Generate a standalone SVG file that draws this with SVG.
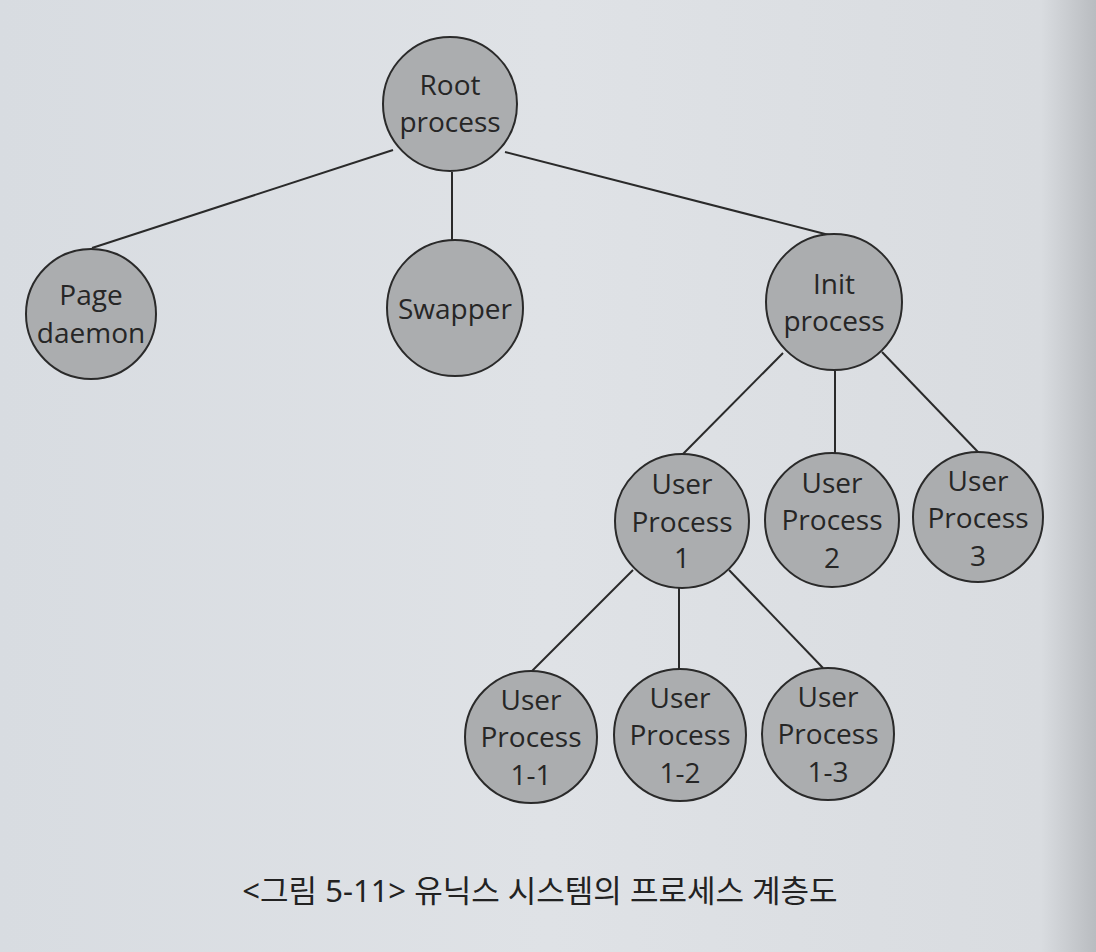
<svg xmlns="http://www.w3.org/2000/svg" width="1096" height="952" viewBox="0 0 1096 952">
<defs>
<linearGradient id="bg" x1="0" y1="0" x2="1" y2="0">
<stop offset="0" stop-color="#d8dce1"/>
<stop offset="0.5" stop-color="#dfe2e6"/>
<stop offset="0.95" stop-color="#d9dce0"/>
<stop offset="1" stop-color="#b9bcc0"/>
</linearGradient>
<style>
.node circle{fill:#abadaf;stroke:#2a2a2a;stroke-width:2}
.node text{font-family:"Open Sans","Noto Sans","DejaVu Sans",sans-serif;font-size:28px;fill:#262626;text-anchor:middle}
#connectors line{stroke:#2a2a2a;stroke-width:2}
.caption{font-family:"Noto Sans","Noto Sans CJK KR",sans-serif;font-size:31px;fill:#222;text-anchor:middle}
</style>
</defs>
<rect width="1096" height="952" fill="url(#bg)"/>
<g id="connectors">
<line x1="393" y1="150" x2="92" y2="248"/>
<line x1="452" y1="172" x2="452" y2="241"/>
<line x1="505" y1="152" x2="829" y2="235"/>
<line x1="783" y1="353" x2="682" y2="455"/>
<line x1="835" y1="371" x2="835" y2="454"/>
<line x1="882" y1="352" x2="978" y2="452"/>
<line x1="633" y1="570" x2="532" y2="671"/>
<line x1="679" y1="588" x2="679" y2="670"/>
<line x1="729" y1="570" x2="823" y2="668"/>
</g>
<g id="root" class="node"><circle cx="450" cy="104" r="67"/><text x="450" y="95">Root</text><text x="450" y="132">process</text></g>
<g id="page" class="node"><circle cx="91" cy="314" r="65"/><text x="91" y="305">Page</text><text x="91" y="343">daemon</text></g>
<g id="swapper" class="node"><circle cx="455" cy="308" r="68"/><text x="455" y="319">Swapper</text></g>
<g id="init" class="node"><circle cx="834" cy="302" r="68"/><text x="834" y="294">Init</text><text x="834" y="331">process</text></g>
<g id="up1" class="node"><circle cx="682" cy="521" r="67"/><text x="682" y="494">User</text><text x="682" y="532">Process</text><text x="682" y="568">1</text></g>
<g id="up2" class="node"><circle cx="832" cy="520" r="67"/><text x="832" y="493">User</text><text x="832" y="530">Process</text><text x="832" y="568">2</text></g>
<g id="up3" class="node"><circle cx="978" cy="517" r="65"/><text x="978" y="491">User</text><text x="978" y="528">Process</text><text x="978" y="566">3</text></g>
<g id="up11" class="node"><circle cx="531" cy="737" r="66"/><text x="531" y="710">User</text><text x="531" y="747">Process</text><text x="531" y="785">1-1</text></g>
<g id="up12" class="node"><circle cx="680" cy="735" r="66"/><text x="680" y="708">User</text><text x="680" y="745">Process</text><text x="680" y="783">1-2</text></g>
<g id="up13" class="node"><circle cx="828" cy="734" r="66"/><text x="828" y="707">User</text><text x="828" y="744">Process</text><text x="828" y="782">1-3</text></g>
<text class="caption" x="540" y="902">&lt;그림 5-11&gt; 유닉스 시스템의 프로세스 계층도</text>
</svg>
